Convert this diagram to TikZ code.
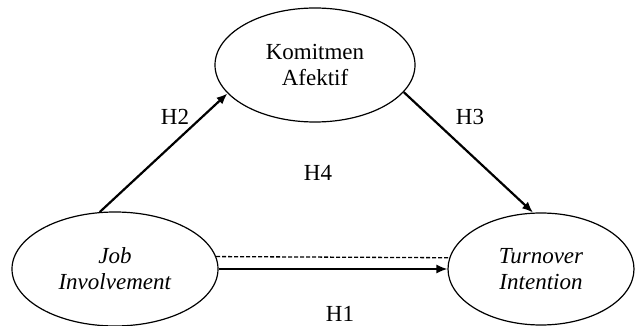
\documentclass[tikz,border=0pt]{standalone}
\usepackage{fontspec}
\setmainfont{Liberation Serif}
\usetikzlibrary{shapes.geometric,arrows.meta}

\begin{document}
\begin{tikzpicture}[x=1pt, y=-1pt,
  var/.style={draw, ellipse, line width=1.2pt, inner sep=0pt, align=center,
    font=\fontsize{23}{26}\selectfont},
  path/.style={line width=2.2pt, -{Latex[length=11pt,width=9pt]}},
  hyp/.style={font=\fontsize{23}{26}\selectfont}]

  \useasboundingbox (0,0) rectangle (635,326);

  % Variables
  \node[var, minimum width=200pt, minimum height=114pt] (KA) at (315,65) {Komitmen\\Afektif};
  \node[var, minimum width=206pt, minimum height=114pt] (JI) at (115,269) {\textit{Job}\\\textit{Involvement}};
  \node[var, minimum width=186pt, minimum height=112pt] (TI) at (541,269) {\textit{Turnover}\\\textit{Intention}};

  % Paths
  \draw[path] (JI.105) -- (KA.198);
  \draw[path] (KA.343) -- (TI.98);
  \draw[path, line width=1.6pt] (JI.east) -- (TI.west);
  \draw[dashed, line width=1.3pt, dash pattern=on 4pt off 2pt] (JI.7) -- (TI.173);

  % Labels
  \node[hyp] (H2) at (175,117) {H2};
  \node[hyp] (H3) at (470,117) {H3};
  \node[hyp] (H4) at (318,173) {H4};
  \node[hyp] (H1) at (340,314) {H1};

\end{tikzpicture}
\end{document}
